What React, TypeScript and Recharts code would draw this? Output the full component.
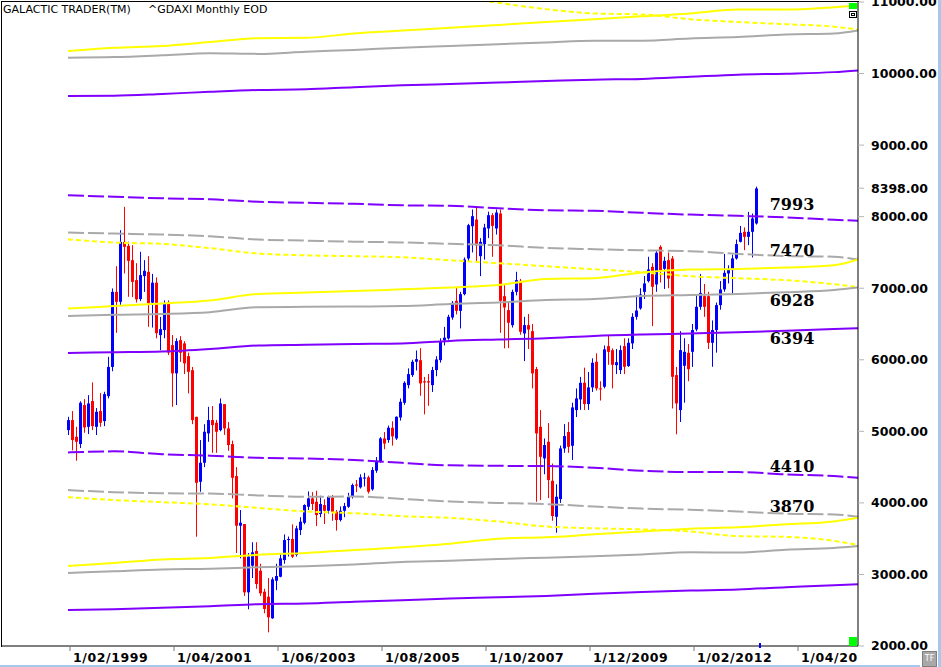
import { ComposedChart, Bar, Line, XAxis, YAxis, ReferenceDot } from "recharts";

// monthly candles, Jan 1999 .. May 2013
const opens = [
  5017, 5157, 4924, 4822, 5367, 5063, 5423, 5063, 5283, 5143, 5492, 5900,
  6949, 6810, 7648, 7592, 7392, 7113, 6848, 7169, 7229, 6798, 7077, 6345,
  6415, 6788, 6205, 5810, 6275, 6229, 6051, 5855, 5203, 4295, 4561, 4971,
  5157, 5120, 5017, 5380, 5041, 4822, 4375, 3681, 3704, 2750, 3122, 3327,
  3052, 2759, 2689, 2387, 2912, 2968, 3201, 3481, 3495, 3272, 3620, 3722,
  3946, 4063, 4016, 3844, 3970, 3890, 4077, 3876, 3760, 3890, 3946, 4086,
  4257, 4217, 4340, 4357, 4189, 4450, 4575, 4901, 4878, 5050, 4901, 5194,
  5399, 5646, 5786, 5972, 5995, 5700, 5700, 5646, 5856, 5995, 6270, 6298,
  6591, 6824, 6684, 6917, 7416, 7867, 7960, 7448, 7616, 7835, 8021, 7835,
  8044, 6889, 6694, 6484, 6949, 7103, 6368, 6484, 6400, 5870, 5063, 4622,
  4854, 4309, 3806, 4053, 4761, 4990, 4798, 5297, 5446, 5678, 5381, 5614,
  5972, 5600, 5623, 6191, 6134, 5925, 5856, 6191, 5912, 6229, 6600, 6718,
  6949, 7099, 7299, 7053, 7578, 7271, 7392, 7416, 5786, 5297, 5916, 6097,
  6111, 6424, 6740, 6889, 6889, 6237, 6415, 6764, 6983, 7206, 7252, 7416,
  7648, 7788, 7718, 7788, 7905,
];
const highs = [
  5203, 5283, 5063, 5420, 5450, 5506, 5684, 5325, 5534, 5553, 6042, 6997,
  7308, 7810, 8137, 7650, 7602, 7350, 7509, 7392, 7448, 7200, 7150, 6600,
  6830, 6830, 6345, 6300, 6330, 6260, 6100, 5900, 5203, 4878, 5100, 5343,
  5353, 5160, 5460, 5380, 5130, 4870, 4500, 3900, 3704, 3300, 3450, 3450,
  3150, 2800, 2950, 2960, 3150, 3300, 3560, 3530, 3700, 3680, 3800, 3980,
  4160, 4150, 4170, 4100, 4050, 4100, 4110, 3900, 3950, 4000, 4140, 4270,
  4320, 4400, 4420, 4380, 4500, 4640, 4920, 4990, 5080, 5140, 5210, 5460,
  5700, 5880, 6000, 6130, 6162, 5760, 5800, 5900, 6050, 6300, 6460, 6630,
  6820, 7011, 6950, 7430, 7900, 8100, 8147, 7700, 7900, 8070, 8050, 8100,
  8100, 7043, 6800, 6980, 7230, 7130, 6600, 6640, 6500, 5900, 5297, 4900,
  5115, 4550, 4260, 4800, 5100, 5130, 5400, 5600, 5760, 5890, 5830, 6020,
  6090, 5700, 6200, 6340, 6160, 6150, 6200, 6300, 6300, 6650, 6900, 7000,
  7170, 7440, 7350, 7530, 7600, 7440, 7500, 7450, 5900, 6400, 6300, 6220,
  6500, 6900, 7200, 7060, 6950, 6550, 6800, 7100, 7480, 7320, 7470, 7680,
  7870, 7850, 8067, 8044, 8420,
];
const lows = [
  4948, 4734, 4589, 4766, 4980, 4962, 5017, 4948, 5063, 5073, 5460, 5840,
  6377, 6750, 7206, 6880, 6876, 6800, 6820, 6949, 6461, 6450, 6300, 6135,
  6300, 6065, 5343, 5367, 5970, 5800, 5530, 5100, 3527, 4156, 4500, 4854,
  4700, 4700, 5000, 4950, 4728, 4063, 3300, 3225, 2700, 2513, 2950, 2800,
  2700, 2457, 2191, 2380, 2780, 2960, 3150, 3250, 3230, 3250, 3550, 3700,
  3900, 3900, 3676, 3800, 3704, 3850, 3750, 3612, 3740, 3800, 3930, 4060,
  4150, 4200, 4230, 4130, 4170, 4420, 4560, 4750, 4840, 4800, 4880, 5150,
  5370, 5600, 5760, 5850, 5497, 5237, 5357, 5550, 5770, 5960, 6200, 6280,
  6560, 6634, 6438, 6900, 7380, 7500, 7354, 7169, 7400, 7700, 7439, 7750,
  6377, 6159, 6163, 6450, 6900, 6350, 5981, 6150, 5600, 4016, 4040, 4400,
  4067, 3750, 3583, 4000, 4700, 4700, 4600, 5200, 5300, 5300, 5300, 5550,
  5570, 5430, 5600, 5930, 5600, 5800, 5800, 5800, 5900, 6150, 6560, 6700,
  6850, 7080, 6470, 6950, 7080, 6990, 7000, 5320, 4958, 5130, 5400, 5700,
  5900, 6400, 6700, 6600, 6150, 5902, 6100, 6700, 6950, 7067, 6927, 7400,
  7640, 7532, 7602, 7430, 7890,
];
const closes = [
  5157, 4878, 4854, 5399, 5055, 5390, 5073, 5273, 5120, 5520, 5900, 6949,
  6810, 7648, 7578, 7382, 7089, 6844, 7183, 7243, 6788, 7077, 6372, 6428,
  6788, 6100, 5810, 6261, 6098, 5950, 5832, 5157, 4281, 4561, 4994, 5157,
  5087, 4994, 5390, 5041, 4808, 4351, 3681, 3723, 2750, 3250, 3309, 2866,
  2736, 2517, 2401, 2932, 2978, 3225, 3481, 3495, 3248, 3644, 3737, 3970,
  4063, 3984, 3830, 3984, 3890, 4086, 3876, 3760, 3890, 3956, 4086, 4249,
  4240, 4357, 4355, 4156, 4459, 4589, 4901, 4829, 5050, 4929, 5203, 5413,
  5678, 5800, 5972, 6009, 5670, 5683, 5682, 5856, 6004, 6251, 6309, 6600,
  6796, 6684, 6917, 7402, 7881, 8007, 7601, 7648, 7848, 8021, 7871, 8058,
  6824, 6731, 6517, 6949, 7113, 6391, 6484, 6422, 5810, 4971, 4644, 4808,
  4319, 3816, 4086, 4761, 4934, 4784, 5334, 5460, 5678, 5381, 5614, 5958,
  5600, 5598, 6145, 6111, 5930, 5966, 6135, 5902, 6237, 6600, 6688, 6913,
  7067, 7262, 7020, 7495, 7252, 7383, 7136, 5762, 5390, 6135, 6111, 5869,
  6415, 6740, 6935, 6740, 6237, 6415, 6764, 6983, 7215, 7262, 7416, 7616,
  7774, 7718, 7788, 7975, 8394,
];

// band lines sampled on these months (0 = Jan 1999)
const lineMonths = [0.5, 12, 24, 36, 48, 60, 72, 84, 96, 108, 120, 132, 144, 156, 168, 180, 192, 198];

const topYellowUp = [10314, 10360, 10385, 10440, 10495, 10500, 10560, 10600, 10640, 10680, 10720, 10760, 10800, 10840, 10895, 10895, 10928, 10950];
const topYellowDown = [11100, 10990, 10900, 10840, 10826, 10760, 10720, 10690, 10655, 10613]; // from month 96
const topGrayUp = [10222, 10230, 10255, 10285, 10275, 10305, 10330, 10360, 10385, 10410, 10435, 10460, 10460, 10490, 10510, 10545, 10560, 10603];
const topPurpleUp = [9686, 9690, 9715, 9745, 9770, 9780, 9810, 9835, 9855, 9875, 9895, 9915, 9925, 9955, 9985, 9998, 10020, 10044];

const midPurpleDown = [8299, 8278, 8257, 8243, 8208, 8194, 8180, 8159, 8152, 8117, 8089, 8082, 8054, 8029, 8012, 7991, 7956, 7943];
const midGrayDown = [7778, 7764, 7750, 7726, 7680, 7665, 7650, 7640, 7620, 7600, 7563, 7545, 7530, 7517, 7480, 7450, 7440, 7401];
const midYellowDown = [7684, 7638, 7620, 7560, 7485, 7460, 7447, 7433, 7391, 7349, 7307, 7265, 7223, 7168, 7140, 7112, 7056, 7014];
const midYellowUp = [6716, 6750, 6786, 6830, 6920, 6940, 6960, 6985, 7010, 7045, 7130, 7140, 7220, 7261, 7270, 7289, 7320, 7401];
const midGrayUp = [6613, 6630, 6640, 6665, 6735, 6740, 6745, 6750, 6780, 6800, 6835, 6850, 6890, 6905, 6920, 6945, 6975, 7010];
const midPurpleUp = [6096, 6105, 6115, 6150, 6200, 6210, 6220, 6228, 6264, 6283, 6300, 6333, 6353, 6367, 6383, 6405, 6430, 6440];

const lowPurpleDown = [4705, 4720, 4680, 4660, 4630, 4620, 4600, 4560, 4525, 4518, 4515, 4490, 4450, 4430, 4430, 4398, 4375, 4351];
const lowGrayDown = [4179, 4150, 4135, 4130, 4105, 4085, 4090, 4055, 4020, 4000, 3983, 3950, 3920, 3905, 3880, 3850, 3839, 3806];
const lowYellowDown = [4080, 4040, 4010, 3980, 3930, 3880, 3855, 3815, 3790, 3740, 3670, 3645, 3630, 3600, 3535, 3525, 3470, 3411];
const lowYellowUp = [3117, 3160, 3210, 3230, 3275, 3300, 3340, 3380, 3430, 3500, 3520, 3560, 3600, 3640, 3660, 3700, 3740, 3792];
const lowGrayUp = [3020, 3045, 3070, 3080, 3100, 3115, 3140, 3175, 3190, 3215, 3235, 3255, 3280, 3310, 3305, 3345, 3370, 3397];
const lowPurpleUp = [2503, 2515, 2535, 2555, 2585, 2595, 2620, 2640, 2665, 2680, 2700, 2730, 2755, 2775, 2790, 2820, 2850, 2862];

const levelTexts = ["7993", "7470", "6928", "6394", "4410", "3870"];
const levelValues = [8173, 7531, 6832, 6301, 4514, 3955];

const xTickMonths = [1, 27, 53, 79, 105, 131, 157, 183];
const xTickLabels = ["1/02/1999", "1/04/2001", "1/06/2003", "1/08/2005", "1/10/2007", "1/12/2009", "1/02/2012", "1/04/2014"];
const yTicks = [2000, 3000, 4000, 5000, 6000, 7000, 8000, 9000, 10000, 11000, 8398];

const PURPLE = "#7f00ff";
const GRAY = "#a9a9a9";
const YELLOW = "#ffff00";

const candles = opens.map((o, i) => ({
  m: i + 0.5,
  open: o,
  high: highs[i],
  low: lows[i],
  close: closes[i],
  range: [lows[i], highs[i]],
}));

const toLine = (vals: number[], months = lineMonths) =>
  vals.map((v, i) => ({ m: months[i], v }));

const bands = [
  { id: "tyu", data: toLine(topYellowUp), color: YELLOW, dash: undefined },
  { id: "tyd", data: toLine(topYellowDown, lineMonths.slice(8)), color: YELLOW, dash: "5 3" },
  { id: "tgu", data: toLine(topGrayUp), color: GRAY, dash: undefined },
  { id: "tpu", data: toLine(topPurpleUp), color: PURPLE, dash: undefined },
  { id: "mpd", data: toLine(midPurpleDown), color: PURPLE, dash: "16 4" },
  { id: "mgd", data: toLine(midGrayDown), color: GRAY, dash: "16 4" },
  { id: "myd", data: toLine(midYellowDown), color: YELLOW, dash: "5 3" },
  { id: "myu", data: toLine(midYellowUp), color: YELLOW, dash: undefined },
  { id: "mgu", data: toLine(midGrayUp), color: GRAY, dash: undefined },
  { id: "mpu", data: toLine(midPurpleUp), color: PURPLE, dash: undefined },
  { id: "lpd", data: toLine(lowPurpleDown), color: PURPLE, dash: "16 4" },
  { id: "lgd", data: toLine(lowGrayDown), color: GRAY, dash: "16 4" },
  { id: "lyd", data: toLine(lowYellowDown), color: YELLOW, dash: "5 3" },
  { id: "lyu", data: toLine(lowYellowUp), color: YELLOW, dash: undefined },
  { id: "lgu", data: toLine(lowGrayUp), color: GRAY, dash: undefined },
  { id: "lpu", data: toLine(lowPurpleUp), color: PURPLE, dash: undefined },
];

const Candle = (props: any) => {
  const { x, y, width, height, payload } = props;
  if (!payload) return null;
  const { open, close, high, low } = payload;
  const top = Math.min(y, y + height);
  const bottom = Math.max(y, y + height);
  const k = (bottom - top) / (high - low);
  const py = (v: number) => top + (high - v) * k;
  const cx = Math.round(x + width / 2);
  const color = close >= open ? "#0000ff" : "#ff0000";
  const bTop = py(Math.max(open, close));
  const bBot = py(Math.min(open, close));
  return (
    <g>
      <line x1={cx + 0.5} x2={cx + 0.5} y1={top} y2={bottom} stroke={color} strokeWidth={1} />
      <rect x={cx - 1} y={bTop} width={3} height={Math.max(1, bBot - bTop)} fill={color} />
    </g>
  );
};

const XTick = (props: any) => {
  const { x, y, payload } = props;
  const label = xTickLabels[xTickMonths.indexOf(payload.value)];
  return (
    <g>
      <defs>
        <clipPath id={`xclip-${payload.value}`}>
          <rect x={0} y={y} width={858 - x} height={30} transform={`translate(${x},0)`} />
        </clipPath>
      </defs>
      <line x1={x} x2={x} y1={y + 1} y2={y + 5} stroke="#777" />
      <text
        x={x + 3}
        y={y + 16}
        fontSize={12.5}
        fontWeight="bold"
        fontFamily="'DejaVu Sans', sans-serif"
        letterSpacing={0.6}
        fill="#000"
        clipPath={`url(#xclip-${payload.value})`}
      >
        {label}
      </text>
    </g>
  );
};

export default function App() {
  return (
    <div
      style={{
        position: "absolute",
        left: 0,
        top: 0,
        width: 941,
        height: 667,
        background: "#fff",
        overflow: "hidden",
      }}
    >
      <ComposedChart
        width={941}
        height={667}
        data={candles}
        margin={{ top: 2, right: 0, bottom: 0, left: 2 }}
      >
        <XAxis
          dataKey="m"
          type="number"
          domain={[-16, 198]}
          ticks={xTickMonths}
          interval={0}
          allowDataOverflow
          height={21}
          tickSize={0}
          tickMargin={0}
          axisLine={{ stroke: "#000" }}
          tickLine={false}
          tick={<XTick />}
        />
        <YAxis
          orientation="right"
          type="number"
          domain={[2000, 11000]}
          allowDataOverflow
          ticks={yTicks}
          interval={0}
          width={83}
          tickSize={6}
          tickMargin={7}
          axisLine={{ stroke: "#000" }}
          tickLine={{ stroke: "#b5b5b5" }}
          tickFormatter={(v: number) => v.toFixed(2)}
          tick={{
            fontSize: 12.5,
            fontWeight: "bold",
            fill: "#000",
            fontFamily: "'DejaVu Sans', sans-serif",
            textAnchor: "start",
          }}
        />
        {bands.map((b) => (
          <Line
            key={b.id}
            data={b.data}
            dataKey="v"
            type="monotone"
            stroke={b.color}
            strokeWidth={2}
            strokeDasharray={b.dash}
            dot={false}
            activeDot={false}
            isAnimationActive={false}
          />
        ))}
        <Bar dataKey="range" barSize={3} shape={Candle} isAnimationActive={false} />
        {levelTexts.map((t, i) => (
          <ReferenceDot
            key={t}
            x={181.5}
            y={levelValues[i]}
            r={0}
            fill="none"
            stroke="none"
            label={{
              value: t,
              position: "center",
              fill: "#000",
              fontSize: 16,
              fontWeight: "bold",
              fontFamily: "'DejaVu Serif', serif",
            }}
          />
        ))}
      </ComposedChart>

      {/* frame left/top */}
      <div
        style={{
          position: "absolute",
          left: 1,
          top: 1,
          width: 857,
          height: 645,
          borderLeft: "1px solid #000",
          borderTop: "1px solid #000",
          pointerEvents: "none",
        }}
      />
      <div
        style={{
          position: "absolute",
          left: 3,
          top: 3,
          fontFamily: "'DejaVu Sans', sans-serif",
          fontSize: 11,
          color: "#000",
          whiteSpace: "pre",
        }}
      >
        GALACTIC TRADER(TM)
      </div>
      <div
        style={{
          position: "absolute",
          left: 148,
          top: 3,
          fontFamily: "'DejaVu Sans', sans-serif",
          fontSize: 11,
          color: "#000",
        }}
      >
        ^GDAXI Monthly EOD
      </div>
      {/* toolbar bits */}
      <div style={{ position: "absolute", left: 849, top: 3, width: 8, height: 6, background: "#00ff00" }} />
      <div
        style={{
          position: "absolute",
          left: 849,
          top: 11,
          width: 6,
          height: 5,
          border: "1px solid #000",
          background: "#fff",
        }}
      >
        <div style={{ position: "absolute", left: 1, top: 1, width: 2, height: 1, border: "1px solid #000" }} />
      </div>
      <div style={{ position: "absolute", left: 849, top: 637, width: 8, height: 9, background: "#00ff00" }} />
      <div style={{ position: "absolute", left: 759, top: 643, width: 2, height: 5, background: "#0000ff" }} />
      <div
        style={{
          position: "absolute",
          left: 922,
          top: 651,
          width: 13,
          height: 14,
          background: "#a8a8a8",
          border: "1px solid #808080",
          color: "#fff",
          fontFamily: "'DejaVu Sans', sans-serif",
          fontSize: 8,
          lineHeight: "14px",
          textAlign: "center",
        }}
      >
        TF
      </div>
      <div style={{ position: "absolute", left: 938, top: 0, width: 3, height: 667, background: "#a6c8ec" }} />
      <div style={{ position: "absolute", left: 0, top: 665, width: 920, height: 2, background: "#a6c8ec" }} />
    </div>
  );
}
